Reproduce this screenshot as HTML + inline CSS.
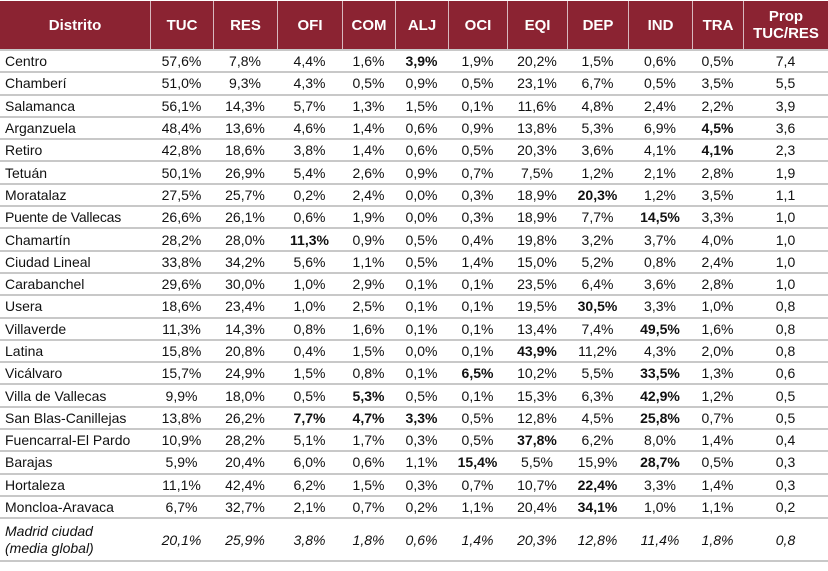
<!DOCTYPE html>
<html><head><meta charset="utf-8">
<style>
html,body{margin:0;padding:0;background:#fff;}
body{width:828px;height:571px;position:relative;overflow:hidden;font-family:"Liberation Sans",Arial,sans-serif;font-size:14px;color:#111;}
.r{display:grid;grid-template-columns:150px 63px 64px 65px 53px 53px 59px 60px 61px 64px 51px 85px;height:22.3px;box-sizing:border-box;border-bottom:2px solid #c8c8c8;align-items:center;}
.r>div{text-align:center;white-space:nowrap;}
.r>div:first-child{text-align:left;padding-left:5px;}
.h{position:absolute;top:1px;left:0;width:828px;height:48px;background:#8b2332;display:grid;grid-template-columns:150px 63px 64px 65px 53px 53px 59px 60px 61px 64px 51px 85px;}
.h>div{color:#fff;font-weight:bold;font-size:15px;display:flex;align-items:center;justify-content:center;text-align:center;border-left:1px solid #d8b8be;line-height:17px;}
.h>div:first-child{border-left:none;}
#body{position:absolute;top:49px;left:0;width:828px;border-top:2px solid #c8c8c8;}
b{font-weight:bold;}
.last{height:43px;font-style:italic;}
.last>div:first-child{line-height:17px;white-space:normal;}
</style></head><body>
<div class="h"><div>Distrito</div><div>TUC</div><div>RES</div><div>OFI</div><div>COM</div><div>ALJ</div><div>OCI</div><div>EQI</div><div>DEP</div><div>IND</div><div>TRA</div><div>Prop<br>TUC/RES</div></div>
<div id="body">
<div class="r"><div>Centro</div><div>57,6%</div><div>7,8%</div><div>4,4%</div><div>1,6%</div><div><b>3,9%</b></div><div>1,9%</div><div>20,2%</div><div>1,5%</div><div>0,6%</div><div>0,5%</div><div>7,4</div></div>
<div class="r"><div>Chamberí</div><div>51,0%</div><div>9,3%</div><div>4,3%</div><div>0,5%</div><div>0,9%</div><div>0,5%</div><div>23,1%</div><div>6,7%</div><div>0,5%</div><div>3,5%</div><div>5,5</div></div>
<div class="r"><div>Salamanca</div><div>56,1%</div><div>14,3%</div><div>5,7%</div><div>1,3%</div><div>1,5%</div><div>0,1%</div><div>11,6%</div><div>4,8%</div><div>2,4%</div><div>2,2%</div><div>3,9</div></div>
<div class="r"><div>Arganzuela</div><div>48,4%</div><div>13,6%</div><div>4,6%</div><div>1,4%</div><div>0,6%</div><div>0,9%</div><div>13,8%</div><div>5,3%</div><div>6,9%</div><div><b>4,5%</b></div><div>3,6</div></div>
<div class="r"><div>Retiro</div><div>42,8%</div><div>18,6%</div><div>3,8%</div><div>1,4%</div><div>0,6%</div><div>0,5%</div><div>20,3%</div><div>3,6%</div><div>4,1%</div><div><b>4,1%</b></div><div>2,3</div></div>
<div class="r"><div>Tetuán</div><div>50,1%</div><div>26,9%</div><div>5,4%</div><div>2,6%</div><div>0,9%</div><div>0,7%</div><div>7,5%</div><div>1,2%</div><div>2,1%</div><div>2,8%</div><div>1,9</div></div>
<div class="r"><div>Moratalaz</div><div>27,5%</div><div>25,7%</div><div>0,2%</div><div>2,4%</div><div>0,0%</div><div>0,3%</div><div>18,9%</div><div><b>20,3%</b></div><div>1,2%</div><div>3,5%</div><div>1,1</div></div>
<div class="r"><div style="letter-spacing:-0.2px">Puente de Vallecas</div><div>26,6%</div><div>26,1%</div><div>0,6%</div><div>1,9%</div><div>0,0%</div><div>0,3%</div><div>18,9%</div><div>7,7%</div><div><b>14,5%</b></div><div>3,3%</div><div>1,0</div></div>
<div class="r"><div>Chamartín</div><div>28,2%</div><div>28,0%</div><div><b>11,3%</b></div><div>0,9%</div><div>0,5%</div><div>0,4%</div><div>19,8%</div><div>3,2%</div><div>3,7%</div><div>4,0%</div><div>1,0</div></div>
<div class="r"><div>Ciudad Lineal</div><div>33,8%</div><div>34,2%</div><div>5,6%</div><div>1,1%</div><div>0,5%</div><div>1,4%</div><div>15,0%</div><div>5,2%</div><div>0,8%</div><div>2,4%</div><div>1,0</div></div>
<div class="r"><div>Carabanchel</div><div>29,6%</div><div>30,0%</div><div>1,0%</div><div>2,9%</div><div>0,1%</div><div>0,1%</div><div>23,5%</div><div>6,4%</div><div>3,6%</div><div>2,8%</div><div>1,0</div></div>
<div class="r"><div>Usera</div><div>18,6%</div><div>23,4%</div><div>1,0%</div><div>2,5%</div><div>0,1%</div><div>0,1%</div><div>19,5%</div><div><b>30,5%</b></div><div>3,3%</div><div>1,0%</div><div>0,8</div></div>
<div class="r"><div>Villaverde</div><div>11,3%</div><div>14,3%</div><div>0,8%</div><div>1,6%</div><div>0,1%</div><div>0,1%</div><div>13,4%</div><div>7,4%</div><div><b>49,5%</b></div><div>1,6%</div><div>0,8</div></div>
<div class="r"><div>Latina</div><div>15,8%</div><div>20,8%</div><div>0,4%</div><div>1,5%</div><div>0,0%</div><div>0,1%</div><div><b>43,9%</b></div><div>11,2%</div><div>4,3%</div><div>2,0%</div><div>0,8</div></div>
<div class="r"><div>Vicálvaro</div><div>15,7%</div><div>24,9%</div><div>1,5%</div><div>0,8%</div><div>0,1%</div><div><b>6,5%</b></div><div>10,2%</div><div>5,5%</div><div><b>33,5%</b></div><div>1,3%</div><div>0,6</div></div>
<div class="r"><div>Villa de Vallecas</div><div>9,9%</div><div>18,0%</div><div>0,5%</div><div><b>5,3%</b></div><div>0,5%</div><div>0,1%</div><div>15,3%</div><div>6,3%</div><div><b>42,9%</b></div><div>1,2%</div><div>0,5</div></div>
<div class="r"><div>San Blas-Canillejas</div><div>13,8%</div><div>26,2%</div><div><b>7,7%</b></div><div><b>4,7%</b></div><div><b>3,3%</b></div><div>0,5%</div><div>12,8%</div><div>4,5%</div><div><b>25,8%</b></div><div>0,7%</div><div>0,5</div></div>
<div class="r"><div>Fuencarral-El Pardo</div><div>10,9%</div><div>28,2%</div><div>5,1%</div><div>1,7%</div><div>0,3%</div><div>0,5%</div><div><b>37,8%</b></div><div>6,2%</div><div>8,0%</div><div>1,4%</div><div>0,4</div></div>
<div class="r"><div>Barajas</div><div>5,9%</div><div>20,4%</div><div>6,0%</div><div>0,6%</div><div>1,1%</div><div><b>15,4%</b></div><div>5,5%</div><div>15,9%</div><div><b>28,7%</b></div><div>0,5%</div><div>0,3</div></div>
<div class="r"><div>Hortaleza</div><div>11,1%</div><div>42,4%</div><div>6,2%</div><div>1,5%</div><div>0,3%</div><div>0,7%</div><div>10,7%</div><div><b>22,4%</b></div><div>3,3%</div><div>1,4%</div><div>0,3</div></div>
<div class="r"><div>Moncloa-Aravaca</div><div>6,7%</div><div>32,7%</div><div>2,1%</div><div>0,7%</div><div>0,2%</div><div>1,1%</div><div>20,4%</div><div><b>34,1%</b></div><div>1,0%</div><div>1,1%</div><div>0,2</div></div>
<div class="r last"><div>Madrid ciudad<br>(media global)</div><div>20,1%</div><div>25,9%</div><div>3,8%</div><div>1,8%</div><div>0,6%</div><div>1,4%</div><div>20,3%</div><div>12,8%</div><div>11,4%</div><div>1,8%</div><div>0,8</div></div>
</div>
</body></html>
